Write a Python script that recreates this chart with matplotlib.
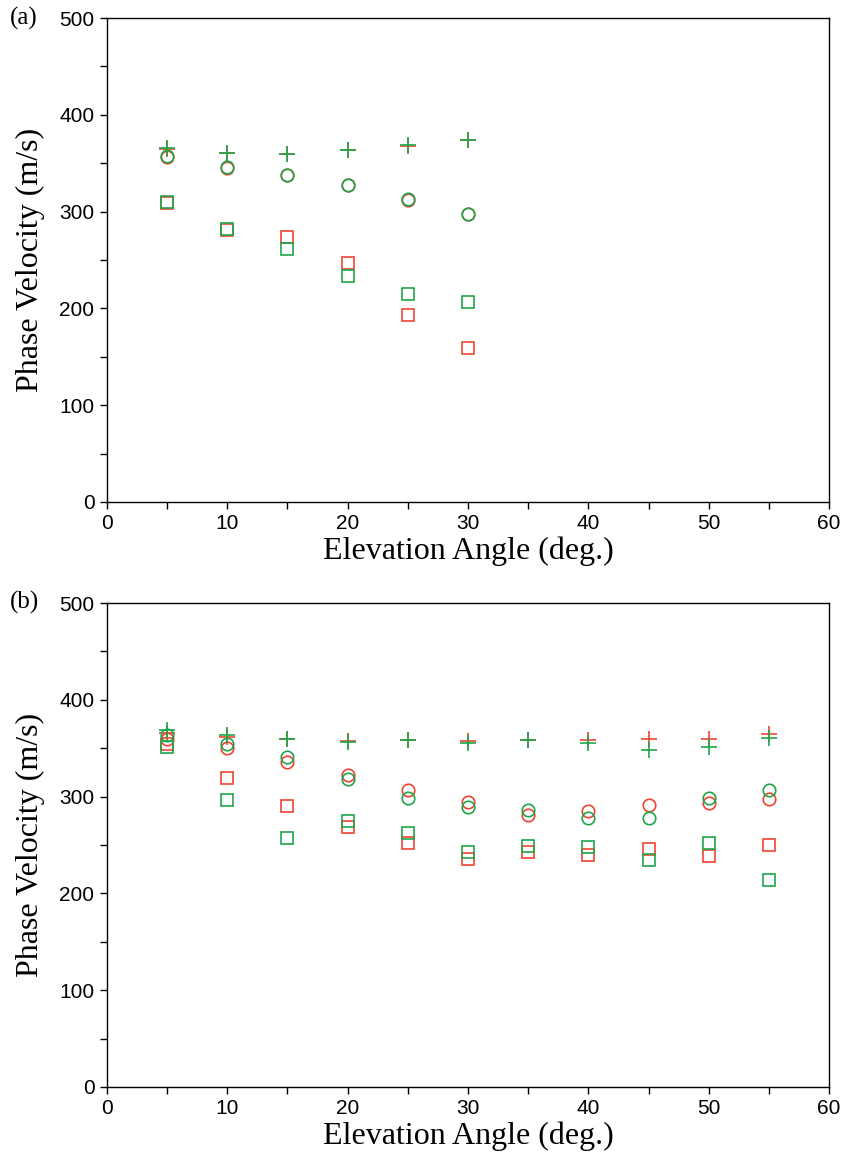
import matplotlib
matplotlib.use("Agg")
import matplotlib.pyplot as plt
from matplotlib.ticker import MultipleLocator

# panel (a)
ang_a = [5, 10, 15, 20, 25, 30]
plus_red_a = [365, 361, 359, 364, 368, 374]
plus_grn_a = [366, 361, 359, 364, 368.5, 374]
circ_red_a = [356, 345, 338, 327, 312, 297]
circ_grn_a = [357, 346, 338, 327, 313, 298]
sq_red_a = [309, 281, 274, 247, 193, 159]
sq_grn_a = [310, 282, 261, 233, 215, 207]

# panel (b)
ang_b = [5, 10, 15, 20, 25, 30, 35, 40, 45, 50, 55]
plus_red_b = [366, 362, 359, 357, 358, 357, 358, 358, 360, 360, 365]
plus_grn_b = [369, 364, 359, 356, 358, 355, 358, 355, 348.5, 351.5, 360.5]
circ_red_b = [360, 350.5, 335.5, 322, 307, 294, 280.5, 285.5, 291, 293, 298]
circ_grn_b = [364, 354, 340.5, 318.5, 299, 289, 286.5, 278, 278, 299, 307]
sq_red_b = [354, 319, 290, 269, 252, 236, 243, 240, 245.5, 239, 250]
sq_grn_b = [351, 296, 257.5, 275, 262, 243, 249, 248, 234, 252, 214]

RED = "#ef4433"
GRN = "#1fa64a"

plt.rcParams['font.family'] = ['Liberation Sans', 'DejaVu Sans']

fig = plt.figure(figsize=(8.42, 11.55), dpi=100, facecolor='w')
ax1 = fig.add_axes([0.127, 0.5654, 0.8576, 0.419])
ax2 = fig.add_axes([0.127, 0.0589, 0.8576, 0.419])


def panel(ax, x, pr, pg, cr, cg, sr, sg, tag, ytag):
    kw = dict(linestyle='none', mfc='none', mew=1.2)
    ax.plot(x, pr, marker='+', color=RED, ms=11, **kw)
    ax.plot(x, cr, marker='o', color=RED, ms=9, **kw)
    ax.plot(x, sr, marker='s', color=RED, ms=9, **kw)
    ax.plot(x, pg, marker='+', color=GRN, ms=11, **kw)
    ax.plot(x, cg, marker='o', color=GRN, ms=9, **kw)
    ax.plot(x, sg, marker='s', color=GRN, ms=9, **kw)

    ax.set_xlim(0, 60)
    ax.set_ylim(0, 500)
    ax.xaxis.set_major_locator(MultipleLocator(10))
    ax.xaxis.set_minor_locator(MultipleLocator(5))
    ax.yaxis.set_major_locator(MultipleLocator(100))
    ax.yaxis.set_minor_locator(MultipleLocator(50))
    ax.tick_params(which='both', direction='out', top=False, right=False,
                   labelsize=15, width=1, pad=4)
    ax.tick_params(which='major', length=5)
    ax.tick_params(which='minor', length=5)
    for s in ax.spines.values():
        s.set_linewidth(1)
    ax.set_xlabel('Elevation Angle (deg.)', family='Liberation Serif',
                  fontsize=23, labelpad=2)
    ax.set_ylabel('Phase Velocity (m/s)', family='Liberation Serif',
                  fontsize=23, labelpad=10)
    fig.text(0.012, ytag, tag, family='Liberation Serif', fontsize=18,
             va='center', ha='left')


panel(ax1, ang_a, plus_red_a, plus_grn_a, circ_red_a, circ_grn_a,
      sq_red_a, sq_grn_a, '(a)', 0.9844)
panel(ax2, ang_b, plus_red_b, plus_grn_b, circ_red_b, circ_grn_b,
      sq_red_b, sq_grn_b, '(b)', 0.478)

fig.savefig('out.png', dpi=100)
